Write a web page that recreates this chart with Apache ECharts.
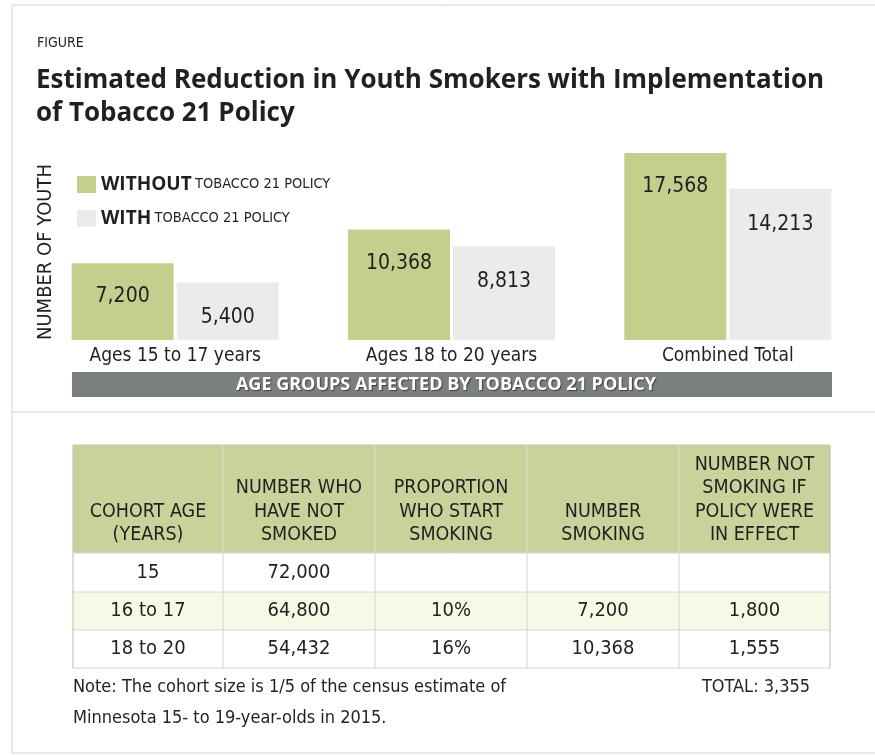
<!DOCTYPE html>
<html>
<head>
<meta charset="utf-8">
<script src="https://cdn.jsdelivr.net/npm/echarts@6/dist/echarts.min.js"></script>
<style>
  html, body { margin: 0; padding: 0; background: #fff; }
  #main { width: 875px; height: 755px; }
</style>
</head>
<body>
<div id="main"></div>
<script>
// chart data
const categories = ['Ages 15 to 17 years', 'Ages 18 to 20 years', 'Combined Total'];
const withoutPolicy = [7200, 10368, 17568];
const withPolicy = [5400, 8813, 14213];

// table data
const tableHeaders = [
  'COHORT AGE\n(YEARS)',
  'NUMBER WHO\nHAVE NOT\nSMOKED',
  'PROPORTION\nWHO START\nSMOKING',
  'NUMBER\nSMOKING',
  'NUMBER NOT\nSMOKING IF\nPOLICY WERE\nIN EFFECT'
];
const tableRows = [
  ['15', '72,000', '', '', ''],
  ['16 to 17', '64,800', '10%', '7,200', '1,800'],
  ['18 to 20', '54,432', '16%', '10,368', '1,555']
];
const tableTotal = 'TOTAL: 3,355';

const NARROW = '"Liberation Sans Narrow", "DejaVu Sans Condensed", sans-serif';
const GREEN = '#c4ce8d';
const GREY_BAR = '#ebebeb';

const myChart = echarts.init(document.getElementById('main'));

// table built as graphic elements
const colX = [73, 223, 375, 527, 679, 830];
const headTop = 445, headBottom = 553;
const rowY = [553, 592, 630, 668];
const tableEls = [];

tableEls.push({
  type: 'rect',
  shape: { x: colX[0], y: headTop, width: colX[5] - colX[0], height: headBottom - headTop },
  style: { fill: '#c8d29a' }
});
tableEls.push({
  type: 'rect',
  shape: { x: colX[0], y: rowY[1], width: colX[5] - colX[0], height: rowY[2] - rowY[1] },
  style: { fill: '#f7f8e6' }
});
// vertical lines
colX.forEach((x, i) => {
  tableEls.push({
    type: 'line',
    shape: { x1: x, y1: headTop, x2: x, y2: headBottom },
    style: { stroke: (i === 0 || i === 5) ? '#b9bcb0' : '#dfe4c6', lineWidth: 1 }
  });
  tableEls.push({
    type: 'line',
    shape: { x1: x, y1: headBottom, x2: x, y2: rowY[3] },
    style: { stroke: (i === 0 || i === 5) ? '#b9bcb0' : '#d2d4cc', lineWidth: 1 }
  });
});
// horizontal lines
[headTop, rowY[0], rowY[1], rowY[2], rowY[3]].forEach((y, i) => {
  tableEls.push({
    type: 'line',
    shape: { x1: colX[0], y1: y, x2: colX[5], y2: y },
    style: { stroke: i === 0 ? '#c2c6b2' : '#d4d6cd', lineWidth: 1 }
  });
});
tableHeaders.forEach((h, i) => {
  tableEls.push({
    type: 'text',
    x: (colX[i] + colX[i + 1]) / 2,
    y: 547,
    style: {
      text: h, fill: '#231f20', font: '19.5px ' + NARROW,
      align: 'center', verticalAlign: 'bottom', lineHeight: 23.5
    }
  });
});
tableRows.forEach((row, r) => {
  row.forEach((cell, c) => {
    tableEls.push({
      type: 'text',
      x: (colX[c] + colX[c + 1]) / 2,
      y: (rowY[r] + rowY[r + 1]) / 2,
      style: {
        text: cell, fill: '#231f20', font: '20px ' + NARROW,
        align: 'center', verticalAlign: 'middle'
      }
    });
  });
});

const option = {
  backgroundColor: '#fff',
  animation: false,
  grid: { left: 37, right: 9, top: 127, bottom: 415 },
  legend: {
    orient: 'vertical',
    left: 72,
    top: 170,
    itemWidth: 19,
    itemHeight: 17,
    itemGap: 15,
    icon: 'rect',
    selectedMode: false,
    data: ['WITHOUT', 'WITH'],
    formatter: (name) => '{b|' + name + '} {n|TOBACCO 21 POLICY}',
    textStyle: {
      rich: {
        b: { fontFamily: '"Open Sans", sans-serif', fontWeight: 'bold', fontSize: 19, color: '#231f20' },
        n: { fontFamily: NARROW, fontSize: 14.5, color: '#231f20' }
      }
    }
  },
  xAxis: {
    type: 'category',
    data: categories,
    axisLine: { show: false },
    axisTick: { show: false },
    axisLabel: { fontFamily: NARROW, fontSize: 19, color: '#231f20', margin: 7 }
  },
  yAxis: {
    type: 'value',
    min: 0,
    max: 20000,
    axisLine: { show: false },
    axisTick: { show: false },
    axisLabel: { show: false },
    splitLine: { show: false }
  },
  series: [
    {
      name: 'WITHOUT',
      type: 'bar',
      data: withoutPolicy,
      barWidth: 102,
      barGap: '3%',
      itemStyle: { color: GREEN },
      label: {
        show: true, position: 'insideTop', distance: 23,
        fontFamily: NARROW, fontSize: 21, color: '#231f20',
        formatter: (p) => p.value.toLocaleString('en-US')
      }
    },
    {
      name: 'WITH',
      type: 'bar',
      data: withPolicy,
      barWidth: 102,
      itemStyle: { color: GREY_BAR },
      label: {
        show: true, position: 'insideTop', distance: 25,
        fontFamily: NARROW, fontSize: 21, color: '#231f20',
        formatter: (p) => p.value.toLocaleString('en-US')
      }
    }
  ],
  graphic: [
    // frame lines
    { type: 'line', shape: { x1: 12, y1: 5, x2: 875, y2: 5 }, style: { stroke: '#d4d4d4', lineWidth: 1 } },
    { type: 'line', shape: { x1: 12, y1: 5, x2: 12, y2: 753 }, style: { stroke: '#d4d4d4', lineWidth: 1 } },
    { type: 'line', shape: { x1: 12, y1: 412, x2: 875, y2: 412 }, style: { stroke: '#d4d4d4', lineWidth: 1 } },
    { type: 'line', shape: { x1: 12, y1: 753, x2: 875, y2: 753 }, style: { stroke: '#d4d4d4', lineWidth: 1 } },
    {
      type: 'text', left: 37, top: 36,
      style: { text: 'FIGURE', fill: '#231f20', font: '14px ' + NARROW }
    },
    {
      type: 'text', left: 36, top: 64,
      style: {
        text: 'Estimated Reduction in Youth Smokers with Implementation\nof Tobacco 21 Policy',
        fill: '#231f20', font: 'bold 26px "Open Sans", sans-serif', lineHeight: 33
      }
    },
    {
      type: 'text', x: 46, y: 252, rotation: Math.PI / 2,
      style: {
        text: 'NUMBER OF YOUTH', fill: '#231f20', font: '20px ' + NARROW,
        align: 'center', verticalAlign: 'middle'
      }
    },
    {
      type: 'rect', shape: { x: 72, y: 372, width: 760, height: 25 },
      style: { fill: '#7b7f7e' }
    },
    {
      type: 'text', x: 446, y: 385,
      style: {
        text: 'AGE GROUPS AFFECTED BY TOBACCO 21 POLICY', fill: '#fff',
        font: 'bold 18px "Open Sans", sans-serif', align: 'center', verticalAlign: 'middle',
        textShadowColor: 'rgba(0,0,0,0.5)', textShadowBlur: 1, textShadowOffsetX: 1, textShadowOffsetY: 1
      }
    },
    ...tableEls,
    {
      type: 'text', x: 73, y: 671.5,
      style: {
        text: 'Note: The cohort size is 1/5 of the census estimate of\nMinnesota 15- to 19-year-olds in 2015.',
        fill: '#231f20', font: '18px ' + NARROW, verticalAlign: 'top', lineHeight: 31
      }
    },
    {
      type: 'text', x: 756, y: 687,
      style: {
        text: tableTotal, fill: '#231f20', font: '18px ' + NARROW,
        align: 'center', verticalAlign: 'middle'
      }
    }
  ]
};

myChart.setOption(option);
</script>
</body>
</html>
